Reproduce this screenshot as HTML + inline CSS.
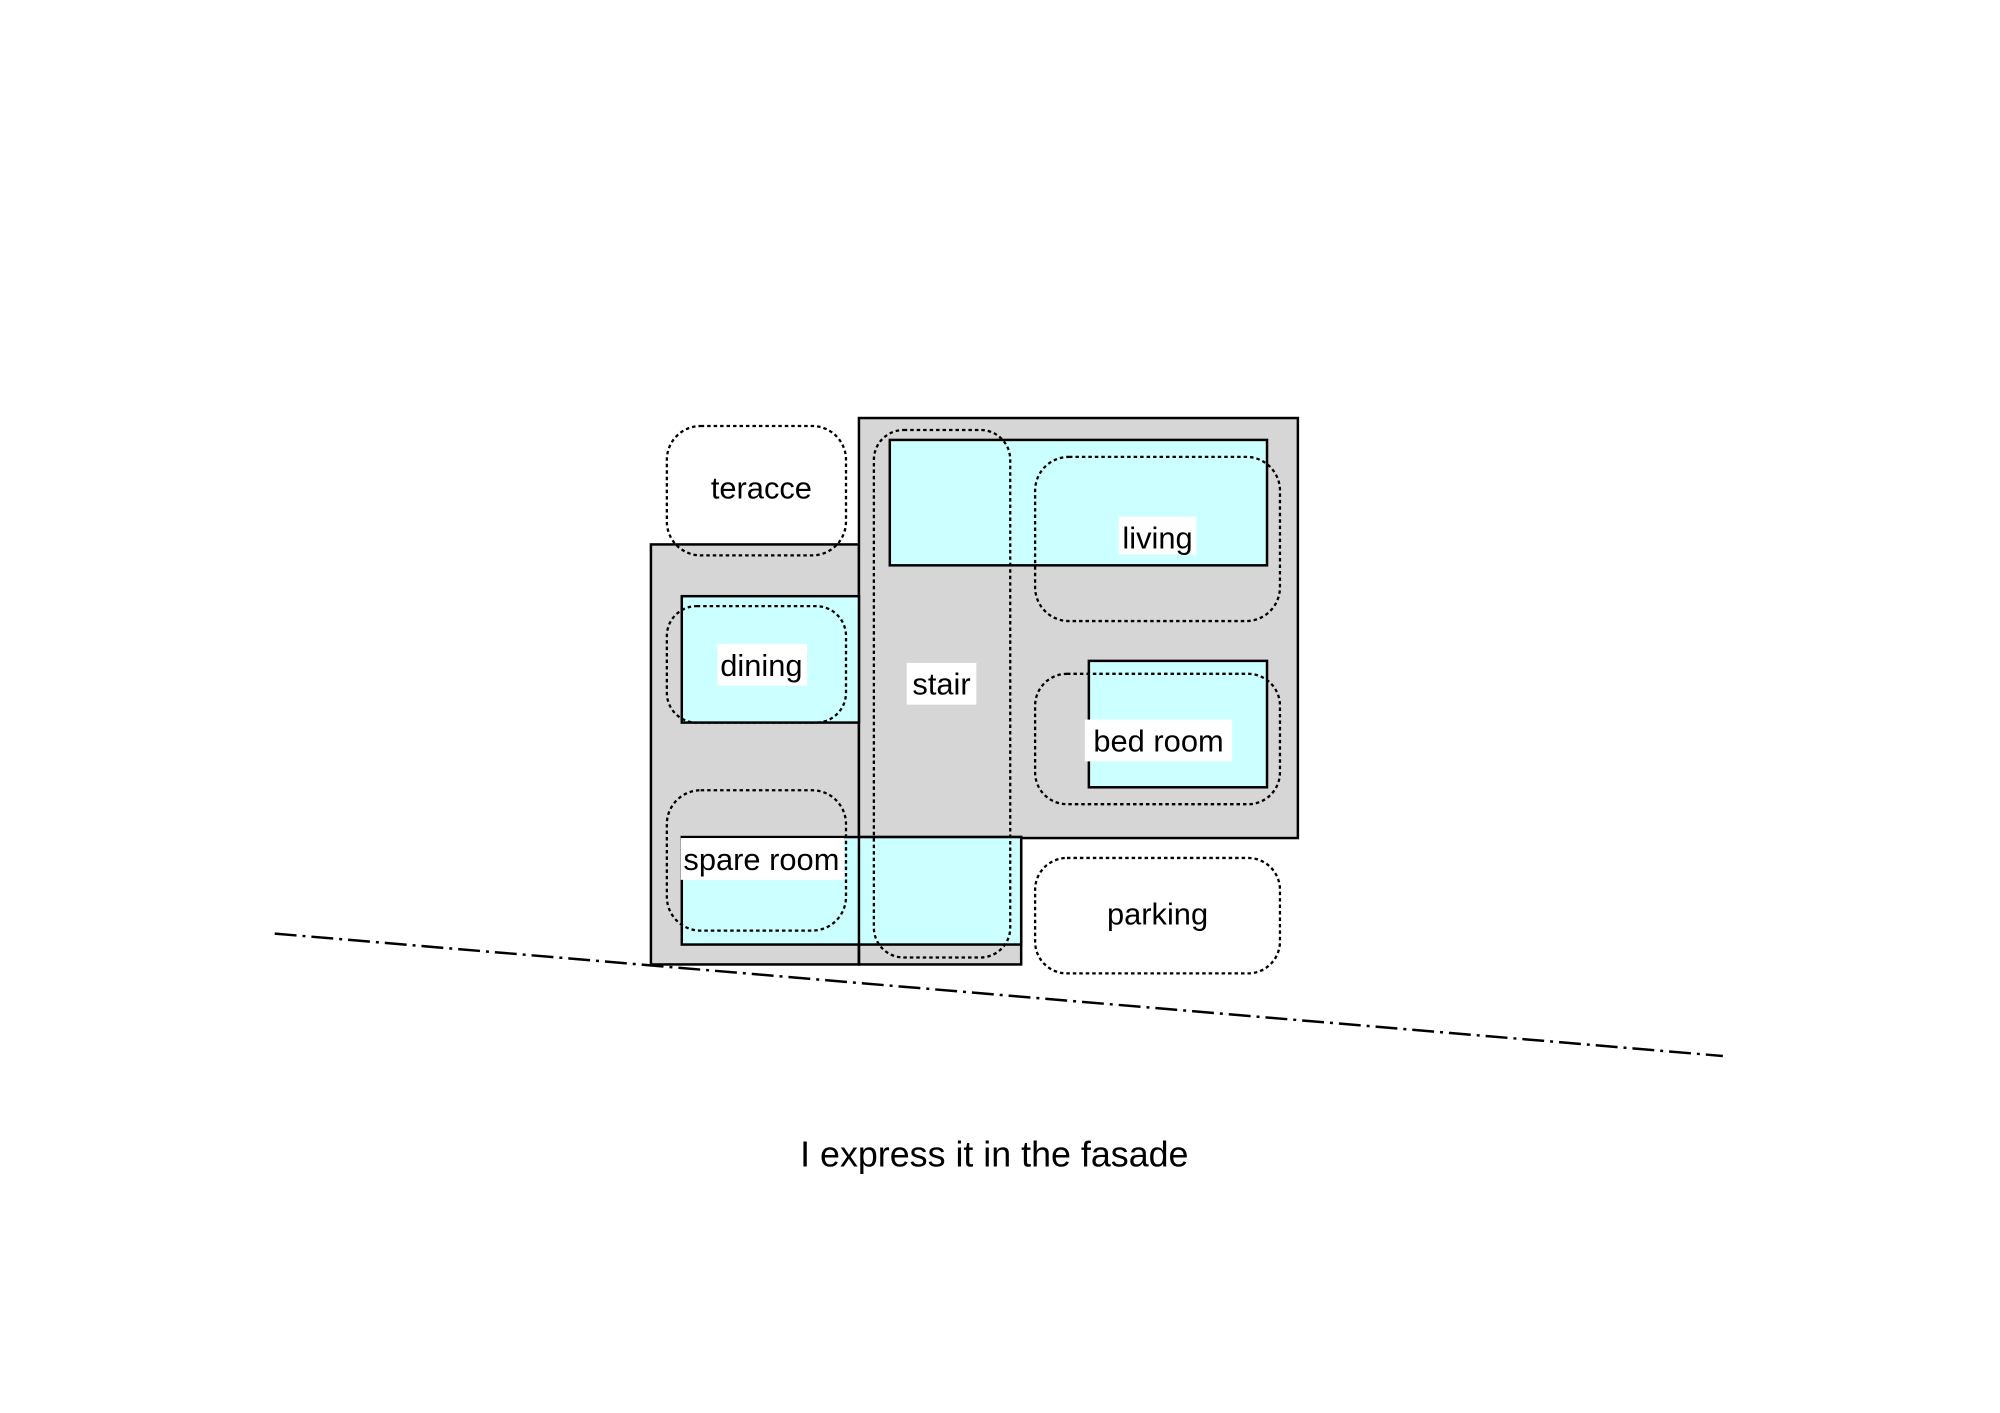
<!DOCTYPE html>
<html><head><meta charset="utf-8"><style>html,body{margin:0;padding:0;background:#fff}svg{display:block}</style></head>
<body>
<svg width="2000" height="1413" viewBox="0 0 2000 1413" xmlns="http://www.w3.org/2000/svg" font-family="Liberation Sans, sans-serif">
<g transform="scale(0.9953)">
<g stroke="#000" stroke-width="2.5">
<rect x="654" y="547" width="209" height="422" fill="#d6d6d6"/>
<rect x="863" y="420" width="441" height="422" fill="#d6d6d6"/>
<rect x="863" y="841" width="163" height="128" fill="#d6d6d6"/>
<rect x="894" y="442" width="379" height="126" fill="#ccffff"/>
<rect x="685" y="599" width="178" height="127" fill="#ccffff"/>
<rect x="1094" y="664" width="179" height="127" fill="#ccffff"/>
<rect x="685" y="841" width="341" height="108" fill="#ccffff"/>
<line x1="863" y1="841" x2="863" y2="969"/>
</g>
<g fill="none" stroke="#000" stroke-width="2.3" stroke-dasharray="3.5,3">
<rect x="670" y="428" width="180" height="130" rx="34"/>
<rect x="670" y="609" width="180" height="117" rx="30"/>
<rect x="670" y="794" width="180" height="141" rx="34"/>
<rect x="878" y="432" width="137" height="530" rx="30"/>
<rect x="1040" y="459" width="246" height="165" rx="34"/>
<rect x="1040" y="677" width="246" height="131" rx="32"/>
<rect x="1040" y="862" width="246" height="116" rx="32"/>
</g>
<line x1="276" y1="938" x2="1731" y2="1061" stroke="#000" stroke-width="2.5" stroke-dasharray="22,6,3,6"/>
<g font-size="31" text-anchor="middle">
<text x="765" y="501">teracce</text>
<rect x="1124" y="519" width="78" height="38" fill="#fff"/><text x="1163" y="551">living</text>
<rect x="721" y="647" width="90" height="42" fill="#fff"/><text x="765" y="679">dining</text>
<rect x="911" y="666" width="70" height="42" fill="#fff"/><text x="946" y="698">stair</text>
<rect x="1090" y="723" width="148" height="42" fill="#fff"/><text x="1164" y="755">bed room</text>
<rect x="684" y="842" width="164" height="42" fill="#fff"/><text x="765" y="874">spare room</text>
<text x="1163" y="929">parking</text>
</g>
<text x="999" y="1172" font-size="36" text-anchor="middle">I express it in the fasade</text>
</g>
</svg>
</body></html>
